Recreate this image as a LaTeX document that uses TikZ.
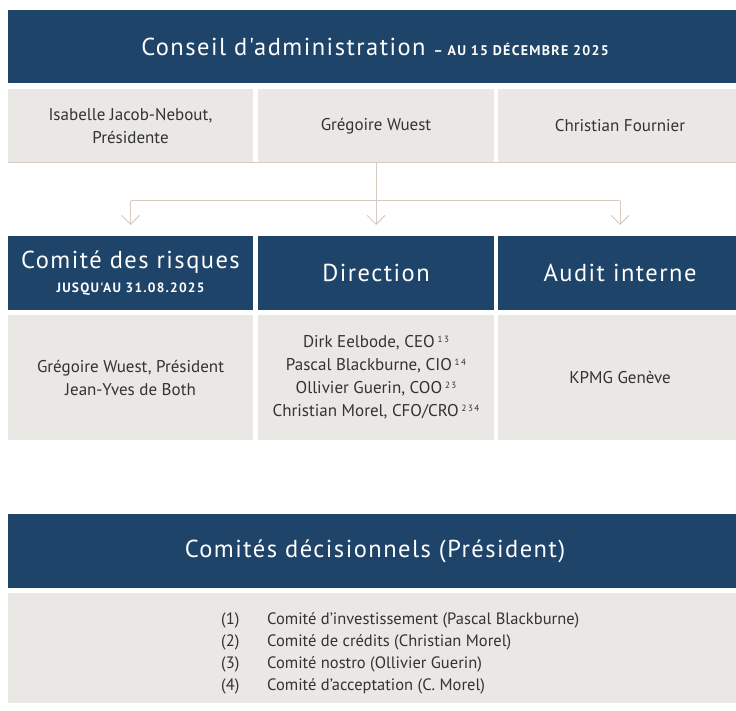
\documentclass[tikz,border=0pt]{standalone}
\usepackage{fontspec}
\setmainfont{PT Sans}
\newfontfamily\hdrfont[LetterSpace=6]{PT Sans}
\newfontfamily\capsfont[LetterSpace=9]{PT Sans}
\usetikzlibrary{arrows.meta}
\definecolor{navy}{HTML}{1F4469}
\definecolor{cellgray}{HTML}{EAE8E5}
\definecolor{linebeige}{HTML}{D5CBC1}
\definecolor{txtgray}{HTML}{333333}
\newcommand{\supnum}[1]{\,\raisebox{5.5pt}{\fontsize{9}{9}\selectfont #1}}
\begin{document}
\begin{tikzpicture}[x=1pt,y=-1pt,
  box/.style={anchor=north west, inner sep=0pt, outer sep=0pt, align=center},
  hdr/.style={box, fill=navy, text=white, font=\hdrfont\fontsize{24.5}{27}\selectfont},
  cell/.style={box, fill=cellgray, text=txtgray, font=\fontsize{17}{23}\selectfont},
  conn/.style={draw=linebeige, line width=1pt},
  arr/.style={conn, -{Straight Barb[length=9pt,width=18pt,line width=1pt]}, shorten >=11pt}]
\useasboundingbox (0,0) rectangle (736,711);
\clip (0,0) rectangle (736,711);

% Conseil d'administration
\node[hdr, minimum width=734pt, minimum height=73pt] (ca) at (8,10)
  {Conseil d'administration {\capsfont\bfseries\fontsize{14}{16}\selectfont – AU 15 DÉCEMBRE 2025}};
\node[cell, minimum width=245pt, minimum height=74pt] (isa) at (8,89) {Isabelle Jacob-Nebout,\\Présidente};
\node[cell, minimum width=236pt, minimum height=74pt] (gre) at (258,89) {Grégoire Wuest};
\node[cell, minimum width=244pt, minimum height=74pt] (chf) at (498,89) {Christian Fournier};

% second row
\node[hdr, minimum width=245pt, minimum height=74pt] (crq) at (8,236)
  {Comité des risques\\[-3pt]{\capsfont\bfseries\fontsize{13.5}{15}\selectfont JUSQU'AU 31.08.2025}};
\node[hdr, minimum width=236pt, minimum height=74pt] (dir) at (258,236) {Direction};
\node[hdr, minimum width=244pt, minimum height=74pt] (aud) at (498,236) {Audit interne};

\node[cell, minimum width=245pt, minimum height=125pt] (crqm) at (8,315)
  {Grégoire Wuest, Président\\Jean-Yves de Both};
\node[cell, minimum width=236pt, minimum height=125pt] (dirm) at (258,315)
  {Dirk Eelbode, CEO\supnum{1\,3}\\Pascal Blackburne, CIO\supnum{1\,4}\\Ollivier Guerin, COO\supnum{2\,3}\\Christian Morel, CFO/CRO\supnum{2\,3\,4}};
\node[cell, minimum width=244pt, minimum height=125pt] (audm) at (498,315) {KPMG Genève};

% connectors
\draw[conn] (isa.south west) -- (chf.south east);
\coordinate (hub) at (376,200.7);
\draw[conn] (crq.north |- hub) -- (aud.north |- hub);
\draw[arr] (gre.south) -- (dir.north);
\draw[arr] (crq.north |- hub) -- (crq.north);
\draw[arr] (aud.north |- hub) -- (aud.north);

% Comités décisionnels
\node[hdr, minimum width=734pt, minimum height=74pt] (cd) at (8,514) {Comités décisionnels (Président)};
\node[cell, minimum width=734pt, minimum height=110pt] (cdm) at (8,593) {};
\node[anchor=west, inner sep=0pt, text=txtgray, font=\fontsize{16.5}{22}\selectfont, align=left] (list) at (221,653)
  {\makebox[46pt][l]{(1)}Comité d'investissement (Pascal Blackburne)\\
   \makebox[46pt][l]{(2)}Comité de crédits (Christian Morel)\\
   \makebox[46pt][l]{(3)}Comité nostro (Ollivier Guerin)\\
   \makebox[46pt][l]{(4)}Comité d'acceptation (C. Morel)};
\end{tikzpicture}
\end{document}
